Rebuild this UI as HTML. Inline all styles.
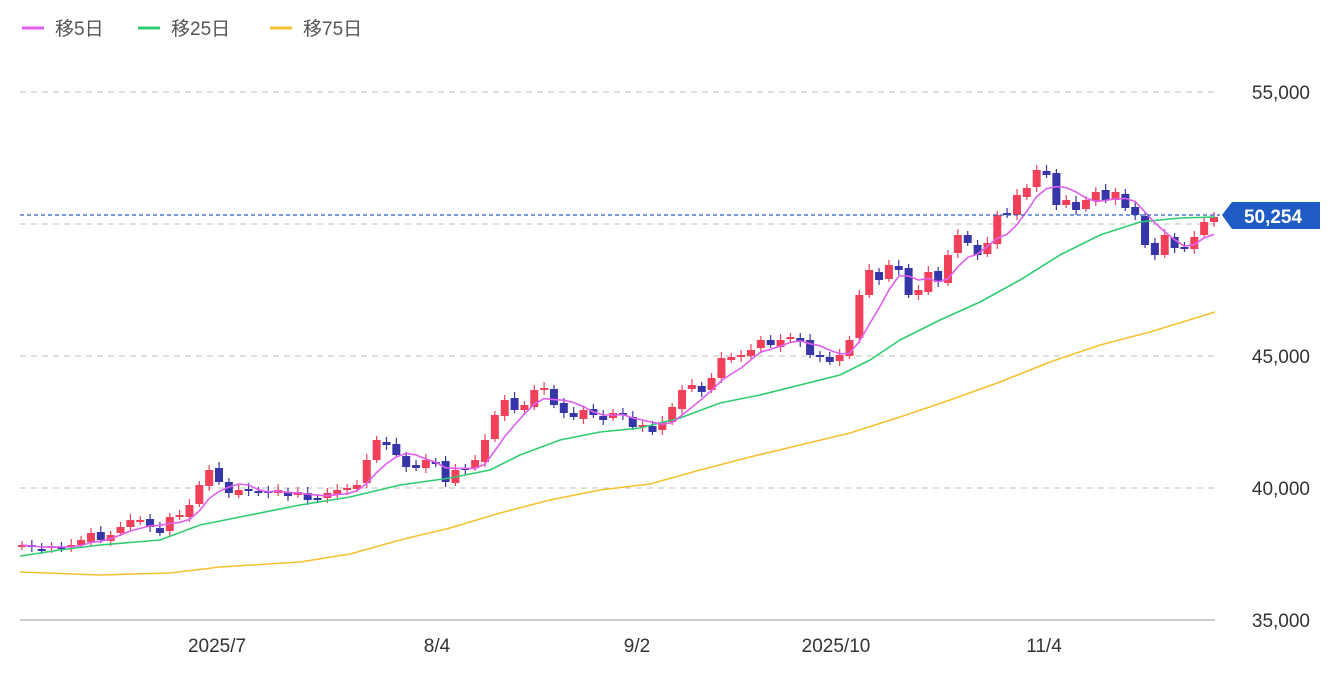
<!DOCTYPE html>
<html><head><meta charset="utf-8">
<style>
html,body{margin:0;padding:0;background:#fff;}
body{width:1334px;height:672px;overflow:hidden;font-family:"Liberation Sans","Noto Sans CJK JP",sans-serif;}
</style></head>
<body>
<svg id="c" width="1334" height="672" xmlns="http://www.w3.org/2000/svg" font-family="Liberation Sans, Noto Sans CJK JP, sans-serif">
<g stroke="#ccc" stroke-width="1.2" stroke-dasharray="6,5">
<line x1="20" y1="92" x2="1215" y2="92"/>
<line x1="20" y1="224" x2="1215" y2="224"/>
<line x1="20" y1="356" x2="1215" y2="356"/>
<line x1="20" y1="488" x2="1215" y2="488"/>
</g>
<line x1="20" y1="620" x2="1215" y2="620" stroke="#999" stroke-width="1"/>
<g font-size="19" fill="#333" text-anchor="end">
<text x="1310" y="99">55,000</text>
<text x="1310" y="363">45,000</text>
<text x="1310" y="495">40,000</text>
<text x="1310" y="627">35,000</text>
</g>
<g font-size="19" fill="#333" text-anchor="middle">
<text x="217" y="652">2025/7</text>
<text x="437" y="652">8/4</text>
<text x="637" y="652">9/2</text>
<text x="836" y="652">2025/10</text>
<text x="1044" y="652">11/4</text>
</g>
<g font-size="19" fill="#555">
<line x1="22" y1="28" x2="44" y2="28" stroke="#e05ef0" stroke-width="3"/><text x="55" y="35">移5日</text>
<line x1="138" y1="28" x2="160" y2="28" stroke="#2ecc71" stroke-width="3"/><text x="171" y="35">移25日</text>
<line x1="270" y1="28" x2="292" y2="28" stroke="#f5c12e" stroke-width="3"/><text x="303" y="35">移75日</text>
</g>
<g id="cand"></g>
<polyline fill="none" stroke="#2ecc71" stroke-width="1.6" points="20,556 60,550 100,545 160,540 200,525 250,515 300,505 350,497 400,485 450,478 490,470 520,455 560,440 600,432 640,428 680,418 720,403 760,395 800,385 840,375 870,360 900,340 940,320 980,302 1020,280 1060,255 1100,235 1140,222 1180,218 1215,217"/>
<polyline fill="none" stroke="#f5c12e" stroke-width="1.6" points="20,572 100,575 170,573 220,567 300,562 350,554 400,540 450,528 500,513 550,500 600,490 650,484 700,470 750,457 800,445 850,433 900,417 950,400 1000,382 1050,362 1100,345 1150,332 1215,312"/>
<polyline id="ma5" fill="none" stroke="#e05ef0" stroke-width="1.6" points=""/>
<line x1="20" y1="215" x2="1220" y2="215" stroke="#2a5fc4" stroke-width="1.2" stroke-dasharray="4,3"/>
<path d="M1222,215 L1232,202 L1320,202 L1320,229 L1232,229 Z" fill="#1f5bc4"/>
<text x="1273" y="223" font-size="19" font-weight="bold" fill="#fff" text-anchor="middle">50,254</text>
</svg>
<script>
var ys=[545,547,549,546,548,545,540,533,540,535,527,520,520,527,533,517,515,505,485,470,482,493,490,490,493,493,490,496,492,500,498,493,490,488,485,460,440,445,455,467,468,460,462,482,470,468,460,440,415,400,410,405,390,388,405,413,417,410,415,420,413,415,427,425,432,422,407,390,385,392,378,358,357,355,350,340,345,340,337,342,355,355,362,355,340,295,270,280,265,270,295,290,272,282,255,235,243,255,243,215,215,195,188,170,175,205,200,210,200,192,200,192,208,215,245,255,235,248,248,237,222,217];
var n=ys.length,g=document.getElementById('cand'),s='',x0=22,dx=(1214-22)/(n-1),pts=[];
for(var i=0;i<n;i++){var x=x0+i*dx,c=ys[i],o=i?ys[i-1]:c+3;var ne=(i*7)%5-2;o+=ne;
var up=c<o;var col=up?'#f0405a':'#3636a8';var t=Math.min(o,c),b=Math.max(o,c);if(b-t<2){b=t+2;}
s+='<line x1="'+x+'" x2="'+x+'" y1="'+(t-4-(i%3))+'" y2="'+(b+3+(i%2)*2)+'" stroke="'+col+'" stroke-width="1.2"/>';
s+='<rect x="'+(x-4)+'" y="'+t+'" width="8" height="'+(b-t)+'" fill="'+col+'"/>';
var k=Math.max(0,i-4),sum=0;for(var j=k;j<=i;j++)sum+=ys[j];pts.push(x.toFixed(1)+','+(sum/(i-k+1)).toFixed(1));}
g.innerHTML=s;document.getElementById('ma5').setAttribute('points',pts.join(' '));
</script>
</body></html>
